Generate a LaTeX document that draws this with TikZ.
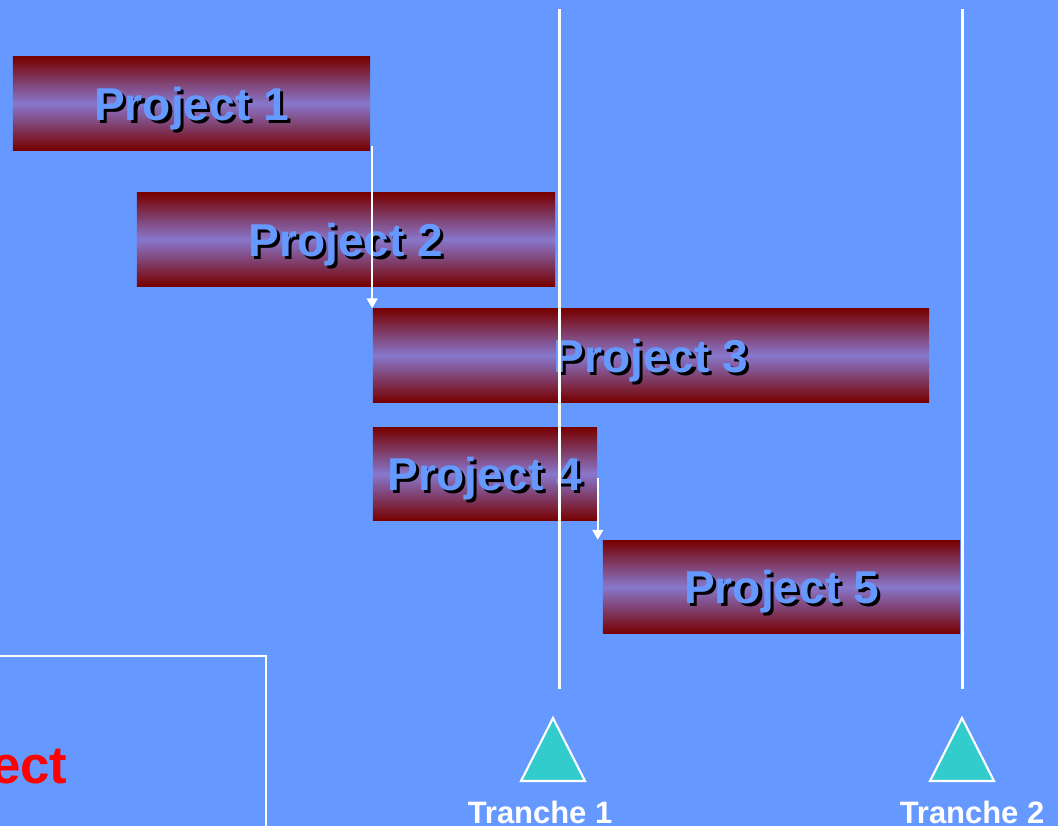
\documentclass[tikz,border=0pt]{standalone}
\usepackage{fontspec}
\setmainfont{Liberation Sans}
\usetikzlibrary{arrows.meta,positioning}
\definecolor{Slide}{HTML}{6699FF}
\definecolor{BarDark}{HTML}{770000}
\definecolor{BarMid}{HTML}{8877CC}
\definecolor{Gate}{HTML}{33CCCC}
\newcommand{\shadowtext}[1]{\rlap{\kern0.9pt\raisebox{-0.9pt}{\color{black}#1}}#1}

\begin{document}
\begin{tikzpicture}[x=0.01cm, y=-0.01cm, every node/.style={font=\bfseries},
  bar/.style={minimum height=0.93cm, inner sep=0pt, text height=9.4pt, text depth=0pt,
    top color=BarDark, bottom color=BarDark, middle color=BarMid, text=Slide,
    font=\bfseries\fontsize{13.1}{15}\selectfont},
  tranche/.style={white, line width=0.85pt},
  flow/.style={white, line width=0.65pt, -{Triangle[length=2.8pt,width=3pt]}},
  gate/.style={fill=Gate, draw=white, line width=0.6pt},
  gatelabel/.style={white, anchor=base, font=\bfseries\fontsize{8.8}{10}\selectfont}]
  \fill[Slide] (0,0) rectangle (1058,826);
  \useasboundingbox (0,0) rectangle (1058,826);
  % project bars
  \node[bar, minimum width=3.57cm] (p1) at (191.5,103.5) {\shadowtext{Project 1}};
  \node[bar, minimum width=4.18cm] (p2) at (346,239.5) {\shadowtext{Project 2}};
  \node[bar, minimum width=5.56cm] (p3) at (651,355.5) {\shadowtext{Project 3}};
  \node[bar, minimum width=2.24cm] (p4) at (485,474) {\shadowtext{Project 4}};
  \node[bar, minimum width=3.57cm] (p5) at (781.5,587) {\shadowtext{Project 5}};
  \draw[flow] ([yshift=0.05cm]p1.south east -| p3.west) -- (p3.north west);
  \draw[flow] ([yshift=-0.04cm]p4.east) -- (p4.east |- p5.north);
  % tranche lines
  \coordinate (t1top) at (559,9);
  \coordinate (t1bot) at (559,689);
  \coordinate (t2top) at (962,9);
  \coordinate (t2bot) at (962,689);
  \draw[tranche] (t1top) -- (t1bot);
  \draw[tranche] (t2top) -- (t2bot);
  % bottom left box
  \draw[white, line width=0.6pt] (-10,656) -| (266,840);
  \node[text=red, inner sep=0pt, anchor=base east, font=\bfseries\fontsize{15}{18}\selectfont] (sel) at (68,783) {ect};
  % milestones
  \filldraw[gate] (553,718) -- (585,781) -- (521,781) -- cycle;
  \filldraw[gate] (962,718) -- (994,781) -- (930,781) -- cycle;
  \node[gatelabel] (l1) at (540,823) {Tranche 1};
  \node[gatelabel] (l2) at (972,823) {Tranche 2};
\end{tikzpicture}
\end{document}
